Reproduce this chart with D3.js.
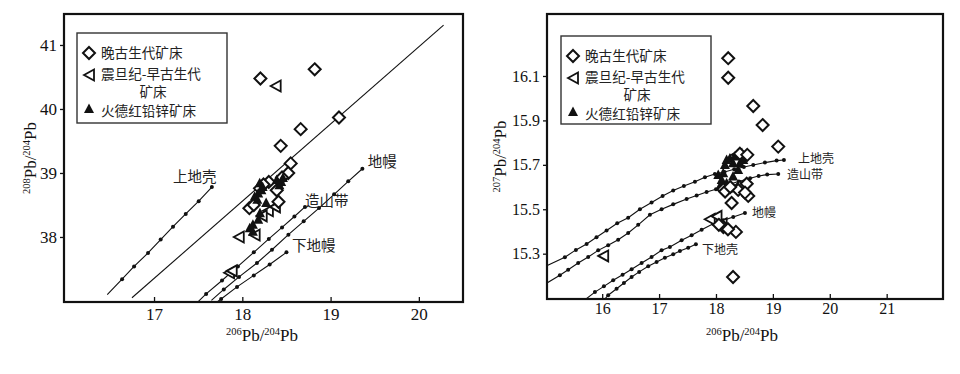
<!DOCTYPE html>
<html><head><meta charset="utf-8">
<script src="https://cdn.jsdelivr.net/npm/d3@7"></script>
<style>body{margin:0;background:#fff}svg{display:block}</style>
</head><body><svg id="c" width="960" height="374"></svg>
<script>
// ---------------- DATA ----------------
// Left panel: 208Pb/204Pb vs 206Pb/204Pb
const leftXTicks = [17, 18, 19, 20];
const leftYTicks = [38, 39, 40, 41];
const leftRefLineX = [16.75, 20.28];
const leftRefLineY = [37.05, 41.31];
const leftUpperCrustX = [16.47, 16.638, 16.774, 16.932, 17.075, 17.215, 17.359, 17.506, 17.655];
const leftUpperCrustY = [37.10, 37.34, 37.54, 37.75, 37.96, 38.16, 38.36, 38.56, 38.78];
const leftOrogenX = [17.50, 17.59, 17.77, 17.95, 18.13, 18.30, 18.45, 18.59, 18.71];
const leftOrogenY = [36.99, 37.11, 37.32, 37.54, 37.76, 37.97, 38.15, 38.32, 38.47];
const leftMantleX = [17.65, 17.79, 17.963, 18.166, 18.336, 18.522, 18.695, 18.869, 19.04, 19.2, 19.36];
const leftMantleY = [37.01, 37.18, 37.376, 37.594, 37.80, 38.036, 38.245, 38.452, 38.666, 38.87, 39.066];
const leftLowerMantleX = [17.70, 17.76, 17.94, 18.13, 18.31, 18.50];
const leftLowerMantleY = [36.97, 37.03, 37.22, 37.40, 37.57, 37.76];
const leftCurveLabels = ["上地壳", "造山带", "地幔", "下地幔"];
const leftLabelX = [17.215, 18.71, 19.42, 18.563];
const leftLabelY = [38.86, 38.48, 39.094, 37.781];
const leftDiamondX = [18.205, 18.82, 19.095, 18.661, 18.435, 18.548, 18.52, 18.30, 18.39, 18.41, 18.08, 18.13, 18.20, 18.24, 18.45];
const leftDiamondY = [40.476, 40.62, 39.867, 39.685, 39.424, 39.15, 39.0, 38.86, 38.73, 38.55, 38.45, 38.5, 38.76, 38.82, 38.93];
const leftTriangleX = [18.378, 17.96, 18.14, 17.85, 17.88, 18.29, 18.37, 18.22];
const leftTriangleY = [40.36, 38.0, 38.03, 37.44, 37.47, 38.41, 38.47, 38.33];
const leftFilledX = [18.084, 18.12, 18.18, 18.20, 18.18, 18.216, 18.197, 18.44, 18.46, 18.42, 18.39, 18.27, 18.14, 18.17, 18.12, 18.23];
const leftFilledY = [38.135, 38.19, 38.27, 38.37, 38.68, 38.73, 38.84, 38.86, 38.92, 38.81, 38.89, 38.53, 38.63, 38.58, 38.08, 38.78];

// Right panel: 207Pb/204Pb vs 206Pb/204Pb
const rightXTicks = [16, 17, 18, 19, 20, 21];
const rightYTicks = [15.3, 15.5, 15.7, 15.9, 16.1];
const rightUpperCrustX = [15.02, 15.344, 15.538, 15.726, 15.90, 16.077, 16.264, 16.457, 16.663, 16.868, 17.062, 17.248, 17.436, 17.63, 17.806, 17.98, 18.15, 18.32, 18.49, 18.655, 18.86, 19.066, 19.194];
const rightUpperCrustY = [15.245, 15.284, 15.317, 15.344, 15.374, 15.404, 15.437, 15.462, 15.50, 15.53, 15.56, 15.584, 15.605, 15.624, 15.644, 15.659, 15.668, 15.68, 15.69, 15.699, 15.71, 15.719, 15.722];
const rightOrogenX = [15.03, 15.256, 15.402, 15.578, 15.754, 15.93, 16.105, 16.281, 16.457, 16.633, 16.839, 17.044, 17.248, 17.484, 17.66, 17.835, 18.0, 18.2, 18.4, 18.6, 18.75, 18.9, 19.094];
const rightOrogenY = [15.168, 15.203, 15.228, 15.258, 15.285, 15.315, 15.338, 15.363, 15.393, 15.43, 15.475, 15.5, 15.522, 15.546, 15.562, 15.578, 15.59, 15.61, 15.625, 15.64, 15.65, 15.656, 15.659];
const rightMantleX = [15.71, 15.872, 16.03, 16.193, 16.359, 16.517, 16.693, 16.868, 17.044, 17.19, 17.396, 17.572, 17.748, 17.951, 18.127, 18.303, 18.509];
const rightMantleY = [15.095, 15.127, 15.153, 15.18, 15.205, 15.23, 15.258, 15.285, 15.315, 15.33, 15.36, 15.383, 15.408, 15.435, 15.45, 15.465, 15.483];
const rightLowerCrustX = [16.05, 16.105, 16.253, 16.382, 16.517, 16.65, 16.809, 16.956, 17.102, 17.248, 17.366, 17.512, 17.647];
const rightLowerCrustY = [15.097, 15.113, 15.142, 15.168, 15.195, 15.218, 15.243, 15.263, 15.282, 15.297, 15.312, 15.327, 15.342];
const rightCurveLabels = ["上地壳", "造山带", "地幔", "下地壳"];
const rightLabelX = [19.443, 19.25, 18.634, 17.755];
const rightLabelY = [15.71, 15.636, 15.465, 15.298];
const rightDiamondX = [18.215, 18.215, 18.655, 18.82, 19.094, 18.42, 18.55, 18.275, 18.35, 18.30, 18.567, 18.42, 18.13, 18.16, 18.13, 18.21, 18.05, 18.54, 18.39, 18.51, 18.25];
const rightDiamondY = [16.18, 16.092, 15.965, 15.879, 15.782, 15.75, 15.745, 15.528, 15.398, 15.195, 15.56, 15.60, 15.59, 15.58, 15.42, 15.41, 15.43, 15.615, 15.587, 15.575, 15.6];
const rightTriangleX = [16.018, 17.89, 18.01, 18.1, 18.36];
const rightTriangleY = [15.29, 15.455, 15.468, 15.435, 15.745];
const rightFilledX = [18.245, 18.157, 18.127, 18.10, 18.187, 18.30, 18.42, 18.39, 18.48, 18.333, 18.04, 18.07, 18.215, 18.187, 18.30];
const rightFilledY = [15.729, 15.699, 15.662, 15.632, 15.617, 15.647, 15.707, 15.677, 15.722, 15.737, 15.654, 15.602, 15.594, 15.722, 15.707];

const legendLabels = ["晚古生代矿床", "震旦纪-早古生代", "矿床", "火德红铅锌矿床"];

// ---------------- DRAWING ----------------
const svg = d3.select("#c");
svg.append("rect").attr("width", 960).attr("height", 374).attr("fill", "#fff");
const CJK = "'Noto Sans CJK SC','Noto Sans',sans-serif";
const SERIF = "'Liberation Serif','DejaVu Serif',serif";

const SHAPES = {
  diamond: "M0,-6L6,0L0,6L-6,0Z",
  tri: "M-5,0L5,-5.5L5,5.5Z",
  filled: "M0,-5.5L5,4L-5,4Z"
};

function zip(xs, ys) { return xs.map((v, i) => [v, ys[i]]); }

function panel(cfg) {
  const x = d3.scaleLinear().domain(cfg.xDomain).range([cfg.x0, cfg.x1]);
  const y = d3.scaleLinear().domain(cfg.yDomain).range([cfg.y1, cfg.y0]);
  const g = svg.append("g");
  const clipId = "clip" + cfg.id;
  svg.append("clipPath").attr("id", clipId).append("rect")
    .attr("x", cfg.x0).attr("y", cfg.y0).attr("width", cfg.x1 - cfg.x0).attr("height", cfg.y1 - cfg.y0);

  const plot = g.append("g").attr("clip-path", `url(#${clipId})`);
  const line = d3.line().x(d => x(d[0])).y(d => y(d[1]));

  if (cfg.refLine) {
    plot.append("path").attr("d", line(cfg.refLine)).attr("fill", "none")
      .attr("stroke", "#111").attr("stroke-width", 1.1);
  }
  cfg.curves.forEach(c => {
    plot.append("path").attr("d", line(c)).attr("fill", "none")
      .attr("stroke", "#111").attr("stroke-width", 1.1);
    plot.selectAll(null).data(c.slice(1)).enter().append("circle")
      .attr("cx", d => x(d[0])).attr("cy", d => y(d[1])).attr("r", 2).attr("fill", "#111");
  });

  // markers
  plot.selectAll(null).data(cfg.triangles).enter().append("path")
    .attr("d", SHAPES.tri).attr("transform", d => `translate(${x(d[0])},${y(d[1])})`)
    .attr("fill", "#fff").attr("stroke", "#111").attr("stroke-width", 1.8);
  plot.selectAll(null).data(cfg.filled).enter().append("path")
    .attr("d", SHAPES.filled).attr("transform", d => `translate(${x(d[0])},${y(d[1])})`)
    .attr("fill", "#111");
  plot.selectAll(null).data(cfg.diamonds).enter().append("path")
    .attr("d", SHAPES.diamond).attr("transform", d => `translate(${x(d[0])},${y(d[1])})`)
    .attr("fill", "#fff").attr("stroke", "#111").attr("stroke-width", 2);
  if (cfg.filledOnTop) {
    plot.selectAll(null).data(cfg.filledOnTop).enter().append("path")
      .attr("d", SHAPES.filled).attr("transform", d => `translate(${x(d[0])},${y(d[1])})`)
      .attr("fill", "#111");
  }

  // curve labels
  g.selectAll(null).data(cfg.labels).enter().append("text")
    .attr("x", d => x(d[0])).attr("y", d => y(d[1]))
    .attr("font-family", CJK).attr("font-size", cfg.labelSize).attr("fill", "#222")
    .text(d => d[2]);

  // axes
  const xa = g.append("g").attr("transform", `translate(0,${cfg.y1})`)
    .call(d3.axisBottom(x).tickValues(cfg.xTicks).tickSize(-5).tickPadding(cfg.xPad).tickFormat(d3.format("d")));
  const ya = g.append("g").attr("transform", `translate(${cfg.x0},0)`)
    .call(d3.axisLeft(y).tickValues(cfg.yTicks).tickSize(4).tickPadding(3).tickFormat(cfg.yFmt));
  [xa, ya].forEach(a => {
    a.select(".domain").remove();
    a.selectAll("line").attr("stroke", "#111").attr("stroke-width", 1.3);
    a.selectAll("text").attr("font-family", SERIF).attr("font-size", cfg.tickSize).attr("fill", "#111");
  });

  // frame
  g.append("rect").attr("x", cfg.x0).attr("y", cfg.y0)
    .attr("width", cfg.x1 - cfg.x0).attr("height", cfg.y1 - cfg.y0)
    .attr("fill", "none").attr("stroke", "#111").attr("stroke-width", 2.2);

  // axis titles
  function title(sel, top) {
    const t = sel.attr("font-family", SERIF).attr("font-size", 17).attr("fill", "#111");
    t.append("tspan").attr("font-size", 10.5).attr("dy", -6).text(top);
    t.append("tspan").attr("dy", 6).text("Pb/");
    t.append("tspan").attr("font-size", 10.5).attr("dy", -6).text("204");
    t.append("tspan").attr("dy", 6).text("Pb");
  }
  title(g.append("text").attr("x", cfg.xTitleX).attr("y", cfg.xTitleY).attr("text-anchor", "middle"), "206");
  title(g.append("text").attr("transform", `translate(${cfg.yTitleX},${(cfg.y0 + cfg.y1) / 2}) rotate(-90)`)
    .attr("text-anchor", "middle"), cfg.yIso);

  // legend
  const L = cfg.legend;
  g.append("rect").attr("x", L.x).attr("y", L.y).attr("width", L.w).attr("height", L.h)
    .attr("fill", "#fff").attr("stroke", "#333").attr("stroke-width", 1.4);
  const mx = L.x + 12, tx = L.x + 24;
  const FS = 13.6;
  const markers = [
    { shape: "diamond", yM: L.y + 20 },
    { shape: "tri", yM: L.y + 42 },
    { shape: "filled", yM: L.y + 76 }
  ];
  markers.forEach(r => {
    const m = g.append("path").attr("d", SHAPES[r.shape]).attr("transform", `translate(${mx},${r.yM})`);
    if (r.shape === "filled") m.attr("fill", "#111");
    else m.attr("fill", "#fff").attr("stroke", "#111").attr("stroke-width", r.shape === "diamond" ? 2 : 1.8);
  });
  const lt = (yy) => g.append("text").attr("x", tx).attr("y", yy).attr("font-family", CJK)
    .attr("font-size", FS).attr("fill", "#222");
  lt(L.y + 25).text(legendLabels[0]);
  lt(L.y + 46).text(legendLabels[1]);
  g.append("text").attr("x", L.x + 76).attr("y", L.y + 64).attr("text-anchor", "middle")
    .attr("font-family", CJK).attr("font-size", FS).attr("fill", "#222").text(legendLabels[2]);
  lt(L.y + 83).text(legendLabels[3]);
}

panel({
  id: "L", x0: 64, x1: 463, y0: 14, y1: 302,
  xDomain: [15.98, 20.5], yDomain: [36.984, 41.484],
  xTicks: leftXTicks, yTicks: leftYTicks, yFmt: d3.format("d"),
  xPad: 6, tickSize: 17,
  refLine: zip(leftRefLineX, leftRefLineY),
  curves: [zip(leftUpperCrustX, leftUpperCrustY), zip(leftOrogenX, leftOrogenY),
           zip(leftMantleX, leftMantleY), zip(leftLowerMantleX, leftLowerMantleY)],
  labels: leftCurveLabels.map((t, i) => [leftLabelX[i], leftLabelY[i], t]), labelSize: 14.5,
  diamonds: zip(leftDiamondX, leftDiamondY),
  triangles: zip(leftTriangleX, leftTriangleY),
  filled: [],
  filledOnTop: zip(leftFilledX, leftFilledY),
  xTitleX: 262, xTitleY: 341, yTitleX: 36, yIso: "208",
  legend: { x: 77, y: 33, w: 150, h: 90 }
});

panel({
  id: "R", x0: 547, x1: 943, y0: 14, y1: 299,
  xDomain: [15.03, 21.99], yDomain: [15.096, 16.379],
  xTicks: rightXTicks, yTicks: rightYTicks, yFmt: d3.format(".1f"),
  xPad: 4, tickSize: 16,
  curves: [zip(rightUpperCrustX, rightUpperCrustY), zip(rightOrogenX, rightOrogenY),
           zip(rightMantleX, rightMantleY), zip(rightLowerCrustX, rightLowerCrustY)],
  labels: rightCurveLabels.map((t, i) => [rightLabelX[i], rightLabelY[i], t]), labelSize: 12,
  diamonds: zip(rightDiamondX, rightDiamondY),
  triangles: zip(rightTriangleX, rightTriangleY),
  filled: zip(rightFilledX, rightFilledY),
  xTitleX: 742, xTitleY: 341, yTitleX: 506, yIso: "207",
  legend: { x: 561, y: 36, w: 150, h: 88 }
});
</script></body></html>
